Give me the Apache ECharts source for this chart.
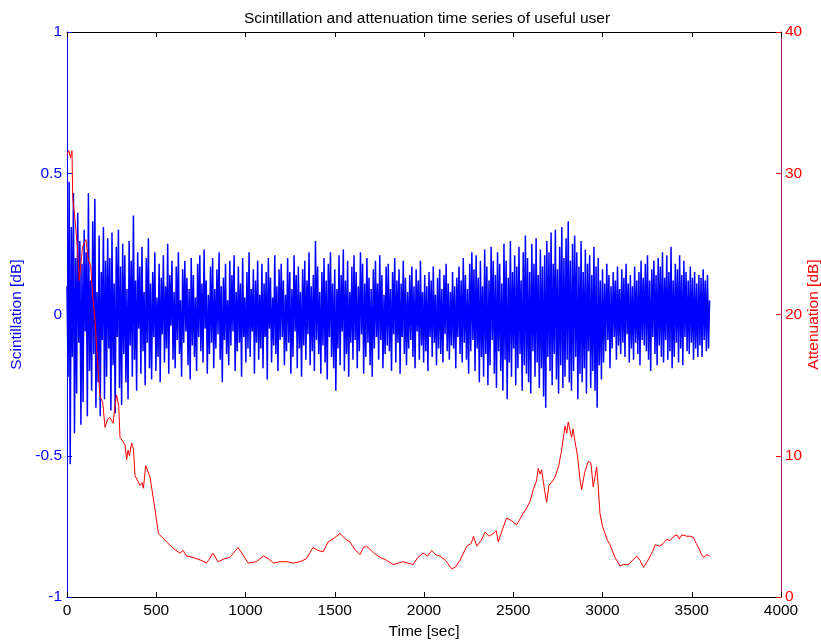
<!DOCTYPE html>
<html><head><meta charset="utf-8">
<script src="https://cdn.jsdelivr.net/npm/echarts@6/dist/echarts.min.js"></script>
<style>html,body{margin:0;padding:0;background:#fff}#c{width:821px;height:644px}</style>
</head><body><div id="c"></div>
<script>
// Scintillation samples, one every 6 s starting at t = 0
const scintStep = 6;
const scintValues = [
0.10,-0.22,0.47,-0.53,0.31,-0.15,0.43,-0.42,0.20,-0.28,
0.36,-0.10,0.26,-0.39,0.18,-0.31,0.30,-0.06,0.22,-0.36,
0.43,-0.20,0.12,-0.27,0.33,-0.14,0.41,-0.33,0.08,-0.24,
0.28,-0.36,0.15,-0.09,0.31,-0.30,0.19,-0.22,0.27,-0.12,
0.20,-0.34,0.29,-0.18,0.11,-0.35,0.24,-0.08,0.30,-0.26,
0.17,-0.32,0.25,-0.14,0.21,-0.24,0.09,-0.30,0.26,-0.11,
0.19,-0.22,0.35,-0.16,0.12,-0.27,0.22,-0.05,0.17,-0.21,
0.24,-0.13,0.08,-0.25,0.20,-0.10,0.27,-0.19,0.11,-0.23,
0.15,-0.08,0.22,-0.20,0.06,-0.15,0.18,-0.24,0.13,-0.07,
0.21,-0.17,0.10,-0.12,0.25,-0.21,0.14,-0.04,0.19,-0.16,
0.08,-0.19,0.17,-0.09,0.22,-0.14,0.05,-0.22,0.16,-0.10,
0.19,-0.06,0.13,-0.18,0.09,-0.23,0.20,-0.11,0.14,-0.15,
0.06,-0.20,0.18,-0.08,0.21,-0.13,0.11,-0.17,0.23,-0.05,
0.12,-0.21,0.07,-0.14,0.17,-0.10,0.20,-0.19,0.09,-0.12,
0.16,-0.07,0.22,-0.16,0.10,-0.24,0.13,-0.09,0.18,-0.14,
0.05,-0.18,0.19,-0.11,0.14,-0.06,0.21,-0.20,0.08,-0.13,
0.17,-0.10,0.11,-0.22,0.20,-0.08,0.06,-0.17,0.15,-0.12,
0.22,-0.15,0.09,-0.06,0.16,-0.21,0.12,-0.10,0.19,-0.16,
0.07,-0.12,0.18,-0.19,0.11,-0.08,0.15,-0.23,0.20,-0.05,
0.13,-0.17,0.06,-0.11,0.21,-0.14,0.10,-0.20,0.16,-0.09,
0.18,-0.08,0.12,-0.18,0.07,-0.13,0.20,-0.10,0.15,-0.21,
0.09,-0.15,0.21,-0.06,0.14,-0.19,0.17,-0.12,0.08,-0.22,
0.16,-0.11,0.19,-0.16,0.12,-0.07,0.22,-0.18,0.10,-0.13,
0.14,-0.20,0.26,-0.09,0.17,-0.14,0.08,-0.21,0.15,-0.11,
0.20,-0.17,0.12,-0.23,0.18,-0.08,0.22,-0.15,0.11,-0.19,
0.16,-0.27,0.09,-0.12,0.21,-0.18,0.14,-0.06,0.23,-0.20,
0.12,-0.14,0.19,-0.22,0.08,-0.10,0.17,-0.16,0.21,-0.09,
0.15,-0.19,0.10,-0.13,0.22,-0.07,0.18,-0.21,0.11,-0.15,
0.20,-0.10,0.13,-0.18,0.09,-0.22,0.16,-0.12,0.19,-0.08,
0.11,-0.16,0.21,-0.09,0.14,-0.19,0.07,-0.14,0.17,-0.11,
0.18,-0.13,0.09,-0.20,0.15,-0.07,0.20,-0.17,0.12,-0.10,
0.16,-0.21,0.11,-0.08,0.19,-0.14,0.13,-0.18,0.08,-0.12,
0.14,-0.09,0.17,-0.15,0.10,-0.19,0.16,-0.06,0.12,-0.16,
0.19,-0.11,0.08,-0.17,0.14,-0.13,0.10,-0.20,0.15,-0.08,
0.12,-0.15,0.17,-0.10,0.07,-0.18,0.13,-0.12,0.16,-0.14,
0.09,-0.17,0.14,-0.07,0.18,-0.13,0.11,-0.16,0.08,-0.11,
0.15,-0.12,0.10,-0.19,0.13,-0.08,0.17,-0.14,0.12,-0.17,
0.20,-0.10,0.14,-0.16,0.09,-0.21,0.18,-0.13,0.22,-0.09,
0.16,-0.20,0.21,-0.12,0.13,-0.24,0.19,-0.15,0.10,-0.22,
0.23,-0.14,0.17,-0.25,0.12,-0.18,0.24,-0.09,0.19,-0.21,
0.14,-0.26,0.22,-0.13,0.18,-0.20,0.11,-0.27,0.25,-0.16,
0.19,-0.30,0.13,-0.17,0.26,-0.22,0.15,-0.12,0.21,-0.25,
0.17,-0.19,0.24,-0.14,0.12,-0.27,0.22,-0.18,0.28,-0.21,
0.20,-0.24,0.15,-0.28,0.25,-0.13,0.18,-0.22,0.27,-0.17,
0.14,-0.26,0.23,-0.19,0.17,-0.29,0.21,-0.33,0.26,-0.15,
0.22,-0.20,0.29,-0.25,0.18,-0.14,0.30,-0.23,0.16,-0.28,
0.24,-0.18,0.31,-0.26,0.20,-0.22,0.27,-0.16,0.33,-0.24,
0.19,-0.27,0.25,-0.20,0.28,-0.15,0.22,-0.30,0.17,-0.21,
0.26,-0.24,0.15,-0.19,0.23,-0.28,0.18,-0.13,0.21,-0.26,
0.14,-0.20,0.24,-0.27,0.17,-0.33,0.20,-0.18,0.12,-0.23,
0.16,-0.17,0.11,-0.13,0.18,-0.09,0.14,-0.19,0.10,-0.12,
0.15,-0.08,0.12,-0.16,0.17,-0.11,0.09,-0.14,0.16,-0.10,
0.13,-0.15,0.18,-0.07,0.11,-0.17,0.14,-0.12,0.10,-0.16,
0.17,-0.10,0.12,-0.14,0.15,-0.18,0.19,-0.09,0.13,-0.11,
0.18,-0.13,0.21,-0.16,0.12,-0.20,0.16,-0.08,0.19,-0.14,
0.14,-0.18,0.20,-0.11,0.17,-0.15,0.22,-0.17,0.13,-0.09,
0.21,-0.16,0.15,-0.13,0.24,-0.19,0.12,-0.15,0.18,-0.10,
0.16,-0.17,0.21,-0.12,0.14,-0.18,0.19,-0.08,0.15,-0.13,
0.12,-0.14,0.17,-0.10,0.13,-0.16,0.15,-0.12,0.11,-0.15,
0.14,-0.11,0.13,-0.15,0.16,-0.09,0.12,-0.13,0.14,-0.12,
0.05
];

// Attenuation: times [s] and values [dB]
const attenTimes = [0,10,20,28,32,45,58,69,82,87,106,119,133,144,157,170,185,200,213,228,241,258,270,278,290,297,325,334,342,350,362,372,381,409,420,428,441,465,493,512,535,558,600,633,650,670,707,750,782,818,846,880,912,958,985,1015,1060,1101,1130,1157,1193,1232,1270,1305,1340,1378,1405,1435,1463,1500,1529,1560,1585,1610,1641,1660,1679,1720,1754,1790,1827,1855,1883,1910,1939,1965,1995,2020,2043,2065,2090,2120,2155,2175,2202,2240,2265,2277,2296,2320,2342,2365,2388,2405,2416,2440,2463,2490,2519,2550,2575,2595,2612,2630,2640,2650,2659,2675,2687,2700,2720,2734,2755,2771,2790,2800,2808,2818,2827,2835,2846,2860,2874,2883,2900,2920,2935,2948,2958,2967,2975,2986,3000,3014,3028,3042,3070,3098,3120,3145,3170,3192,3210,3229,3250,3267,3280,3295,3320,3341,3360,3379,3400,3417,3430,3445,3473,3495,3510,3525,3538,3555,3566,3585,3600];
const attenValues = [31.3,31.6,31.1,31.6,28.3,26.7,24.8,22.4,24.1,24.8,25.3,23.9,23.4,21.3,19.6,16.8,14.2,13.8,12.0,12.6,12.7,12.3,13.6,14.3,13.5,11.3,10.8,9.7,10.4,10.0,10.9,10.5,8.6,7.9,8.1,7.7,9.3,8.5,6.2,4.5,4.2,3.9,3.4,3.1,3.3,2.9,2.8,2.6,2.4,3.1,2.5,2.7,2.8,3.5,3.0,2.4,2.5,2.9,2.7,2.4,2.5,2.5,2.4,2.5,2.7,3.5,3.3,3.2,3.9,4.2,4.5,4.1,3.9,3.4,3.0,3.5,3.6,3.1,2.8,2.6,2.3,2.4,2.5,2.4,2.3,2.8,3.1,2.9,3.3,3.0,2.9,2.6,2.0,2.1,2.6,3.6,3.8,4.3,3.6,4.0,4.6,4.3,4.5,4.7,3.9,4.8,5.6,5.4,5.1,5.8,6.3,6.8,7.6,8.2,9.1,8.7,9.0,7.6,6.7,7.9,8.2,8.5,9.3,10.4,12.1,11.6,12.4,11.8,11.3,11.9,11.0,10.0,8.3,7.6,8.8,9.6,9.5,7.8,8.5,9.2,8.0,5.9,5.0,4.5,4.0,3.7,2.8,2.2,2.3,2.3,2.6,2.9,2.6,2.1,2.5,2.9,3.2,3.7,3.6,3.8,4.1,4.0,4.3,4.4,4.1,4.4,4.3,4.3,4.2,3.8,3.5,3.0,2.8,3.0,2.9];

const xTicks = [0,500,1000,1500,2000,2500,3000,3500,4000];
const leftTicks = [-1,-0.5,0,0.5,1];
const rightTicks = [0,10,20,30,40];

const FONT = 'Liberation Sans, Arial, sans-serif';
const FS = 15.5;
const scintData = scintValues.map((v,i)=>[i*scintStep, v]);
const attenData = attenTimes.map((t,i)=>[t, attenValues[i]]);
const fmt = v => String(v);

const chart = echarts.init(document.getElementById('c'), null, {renderer:'canvas'});
chart.setOption({
  animation:false,
  backgroundColor:'#fff',
  title:{text:'Scintillation and attenuation time series of useful user', left:422, textAlign:'center', top:6,
    textStyle:{fontFamily:FONT, fontSize:FS, fontWeight:'normal', color:'#000'}},
  grid:{left:67, right:40, top:32, bottom:47, containLabel:false, outerBoundsMode:'none'},
  xAxis:[{
    type:'value', min:xTicks[0], max:xTicks[xTicks.length-1], interval:xTicks[1]-xTicks[0], position:'bottom',
    name:'Time [sec]', nameLocation:'middle', nameGap:27, nameMoveOverlap:false,
    nameTextStyle:{fontFamily:FONT, fontSize:FS, color:'#000'},
    axisLine:{onZero:false, lineStyle:{color:'#000', width:1}},
    axisTick:{inside:true, length:5, lineStyle:{color:'#000'}},
    axisLabel:{fontFamily:FONT, fontSize:FS, color:'#000', margin:6, formatter:fmt},
    splitLine:{show:false}
  },{
    type:'value', min:xTicks[0], max:xTicks[xTicks.length-1], interval:xTicks[1]-xTicks[0], position:'top',
    axisLine:{onZero:false, lineStyle:{color:'#000', width:1}},
    axisTick:{inside:true, length:5, lineStyle:{color:'#000'}},
    axisLabel:{show:false}, splitLine:{show:false}
  }],
  yAxis:[{
    type:'value', min:leftTicks[0], max:leftTicks[leftTicks.length-1], interval:0.5, position:'left',
    name:'Scintillation [dB]', nameLocation:'middle', nameGap:42, nameRotate:90, nameMoveOverlap:false,
    nameTextStyle:{fontFamily:FONT, fontSize:FS, color:'#0000ff'},
    axisLine:{show:true, onZero:false, lineStyle:{color:'#0000ff', width:1}},
    axisTick:{show:true, inside:true, length:5, lineStyle:{color:'#0000ff'}},
    axisLabel:{fontFamily:FONT, fontSize:FS, color:'#0000ff', margin:5, formatter:fmt},
    splitLine:{show:false}
  },{
    type:'value', min:rightTicks[0], max:rightTicks[rightTicks.length-1], interval:10, position:'right',
    name:'Attenuation [dB]', nameLocation:'middle', nameGap:25, nameRotate:90, nameMoveOverlap:false,
    nameTextStyle:{fontFamily:FONT, fontSize:FS, color:'#ff0000'},
    axisLine:{show:true, onZero:false, lineStyle:{color:'#8e2374', width:1}},
    axisTick:{show:true, inside:true, length:5, lineStyle:{color:'#ff0000'}},
    axisLabel:{fontFamily:FONT, fontSize:FS, color:'#ff0000', margin:4, formatter:fmt},
    splitLine:{show:false}
  }],
  series:[{
    name:'Scintillation', type:'line', xAxisIndex:0, yAxisIndex:0,
    data:scintData, showSymbol:false, symbol:'none', sampling:null,
    lineStyle:{color:'#0000ff', width:1.5}, z:2
  },{
    name:'Attenuation', type:'line', xAxisIndex:0, yAxisIndex:1,
    data:attenData, showSymbol:false, symbol:'none',
    lineStyle:{color:'#ff0000', width:1}, z:3
  }]
});
</script>
</body></html>
